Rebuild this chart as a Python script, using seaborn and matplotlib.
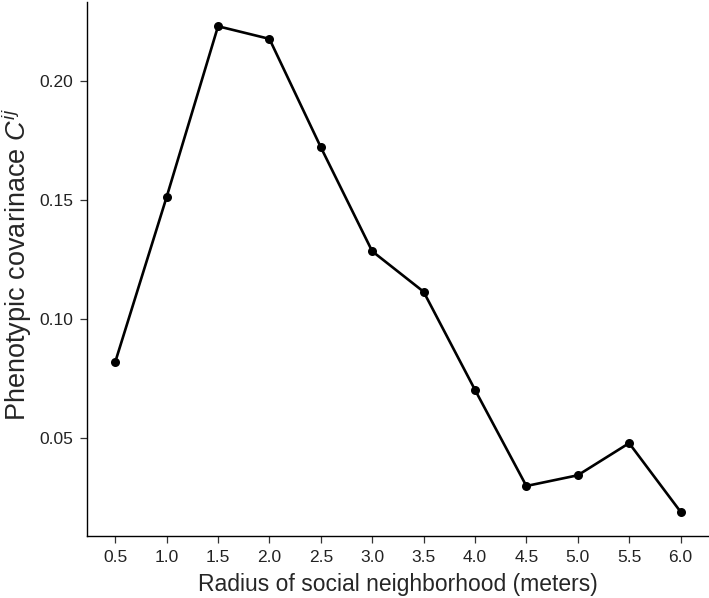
import pandas as pd
import matplotlib.pyplot as plt
import seaborn as sns

sns.set_theme(style='ticks')
plt.rcParams['font.family'] = ['Liberation Sans', 'DejaVu Sans']
plt.rcParams['mathtext.fontset'] = 'custom'
plt.rcParams['mathtext.rm'] = 'Liberation Sans'
plt.rcParams['mathtext.it'] = 'Liberation Sans:italic'

radius = [0.5, 1.0, 1.5, 2.0, 2.5, 3.0, 3.5, 4.0, 4.5, 5.0, 5.5, 6.0]
covariance = [0.0820, 0.1513, 0.2230, 0.2177, 0.1722, 0.1285, 0.1115,
              0.0703, 0.0299, 0.0344, 0.0479, 0.0191]
x_ticks = radius
y_ticks = [0.05, 0.10, 0.15, 0.20]

data = pd.DataFrame({'radius': radius, 'cov': covariance})

fig = plt.figure(figsize=(7.09, 5.98), dpi=100)
ax = fig.add_axes([0.1227, 0.1037, 0.877, 0.893])
sns.lineplot(data=data, x='radius', y='cov', ax=ax, color='black',
             linewidth=1.9, marker='o', markersize=6.5, markeredgewidth=0)

ax.set_xlim(0.225, 6.275)
ax.set_ylim(0.0089, 0.2332)
ax.set_xticks(x_ticks)
ax.set_xticklabels([f'{v:.1f}' for v in x_ticks])
ax.set_yticks(y_ticks)
ax.set_yticklabels([f'{v:.2f}' for v in y_ticks])
ax.tick_params(axis='both', labelsize=12.5, labelcolor='#222222', color='#333333',
               length=5, width=0.9, pad=5)
ax.set_xlabel('Radius of social neighborhood (meters)', fontsize=16.5, labelpad=6)
ax.set_ylabel(r'Phenotypic covarinace $\mathit{C}^{ij}$', fontsize=19.5)
ax.yaxis.set_label_coords(-0.085, 0.509)
sns.despine(ax=ax)
for s in ('left', 'bottom'):
    ax.spines[s].set_color('black')
    ax.spines[s].set_linewidth(1.0)

plt.savefig('out.png', dpi=100)
